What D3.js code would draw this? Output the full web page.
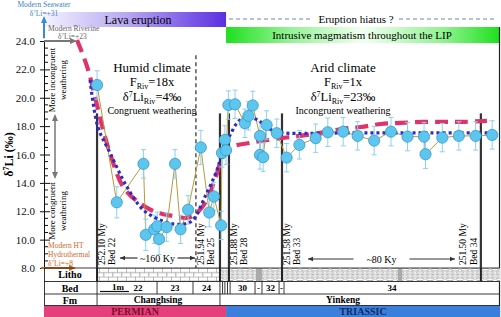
<!DOCTYPE html>
<html><head><meta charset="utf-8">
<script src="https://cdn.jsdelivr.net/npm/d3@7"></script>
<style>
body{margin:0;background:#fff}
svg{display:block;font-family:"Liberation Serif","Times New Roman",serif}
</style>
</head><body><div id="chart"></div>
<script>
// stratigraphic height (m above base of bed 22) and d7Li (permil)
const sampleHeight = [0.00,0.68,1.60,1.68,1.97,2.08,2.14,2.40,2.69,2.88,3.14,3.58,3.87,4.03,4.28,4.31,4.41,4.45,4.53,4.76,5.10,5.22,5.37,5.62,5.62,5.73,5.85,6.20,6.54,6.98,7.54,7.96,8.49,8.99,9.56,10.14,10.71,11.28,11.33,11.91,12.48,13.06,13.63];
const sampleD7Li   = [20.9,12.63,15.34,10.34,10.73,10.94,10.04,10.88,15.34,10.73,12.10,16.50,11.91,13.04,11.00,16.11,17.03,16.30,19.49,19.54,18.20,18.72,19.46,17.31,15.97,15.81,18.08,17.50,15.78,16.68,17.15,17.57,17.61,17.31,16.98,17.61,17.26,17.26,16.02,17.19,17.31,17.31,17.38];
const sampleErr    = [1.0,1.1,1.0,1.1,1.0,1.0,1.1,1.0,1.0,1.0,1.0,1.2,1.0,1.0,1.0,1.0,1.0,1.0,1.0,1.0,1.0,1.0,1.0,1.0,1.0,1.0,1.0,1.0,1.0,1.0,1.0,1.0,1.0,1.0,1.0,1.0,1.0,1.0,1.0,1.0,1.0,1.0,1.0];

// model curves
const modelDashH = [-0.69,-0.34,-0.07,0.21,0.52,0.90,1.41,2.00,2.59,3.14,3.45,3.79,4.14,4.31,4.69,5.28,6.14,7.00,7.69,8.45,9.10,9.79,10.48,11.24,11.97,12.66,13.45];
const modelDashV = [24.07,22.17,20.06,17.73,15.62,13.72,12.66,11.96,11.68,11.54,11.89,12.80,14.70,15.76,16.54,16.82,17.10,17.31,17.52,17.80,17.94,18.15,18.23,18.30,18.30,18.30,18.37];
const modelDotH  = [-0.24,0.03,0.45,1.03,1.59,2.17,2.62,3.03,3.31,3.72,4.14,4.41,4.59,4.83,5.10,5.38,5.69,6.07,6.41,8.72,11.14,13.55];
const modelDotV  = [21.25,17.94,16.11,13.72,12.10,11.39,11.11,11.11,11.39,13.01,14.92,16.82,17.38,18.23,18.65,18.58,18.23,17.66,17.52,17.52,17.52,17.52];

// age markers
const markerH   = [0, 3.41, 4.24, 4.55, 6.38, 13.24];
const markerAge = ['252.10 My','251.94 My','','251.88 My','251.58 My','251.50 My'];
const markerBed = ['Bed 22','Bed 25','','Bed 28','Bed 33','Bed 34'];
const markerDashed = [false,true,false,false,false,false];

// y axis
const yMajor = [8,10,12,14,16,18,20,22,24];

// bed column
const bedEdges  = [0,2.07,3.31,4.24,4.33,4.41,4.50,4.59,5.45,5.69,6.28,6.45,13.9];
const bedLabels = ['22','23','24','','','','','30','-','32','-','34'];
const fmEdges = [0,4.24,13.9];
const fmNames = ['Changhsing','Yinkeng'];
const periodEdges = [-1.83,4.45,13.9];
const periodNames = ['PERMIAN','TRIASSIC'];
const periodFill = ['#e6407c','#3a7fdc'];
const periodText = ['#7a0f2a','#14285e'];
const grayBands = [[5.48,5.69],[10.38,10.52]];

const W = 501, H = 317;
const x = d3.scaleLinear().domain([-1.83, 13.9]).range([44, 500]);
const y = d3.scaleLinear().domain([8, 24]).range([268, 41]);

const svg = d3.select('#chart').append('svg').attr('width', W).attr('height', H);
const defs = svg.append('defs');

// gradients
const gp = defs.append('linearGradient').attr('id','lava');
gp.append('stop').attr('offset','0%').attr('stop-color','#f4f2fe');
gp.append('stop').attr('offset','45%').attr('stop-color','#b7a8f2');
gp.append('stop').attr('offset','100%').attr('stop-color','#5b2fe0');
const gg = defs.append('linearGradient').attr('id','intr');
gg.append('stop').attr('offset','0%').attr('stop-color','#1fe01f');
gg.append('stop').attr('offset','22%').attr('stop-color','#8ff28f');
gg.append('stop').attr('offset','50%').attr('stop-color','#f2fff2');
gg.append('stop').attr('offset','80%').attr('stop-color','#8ff28f');
gg.append('stop').attr('offset','100%').attr('stop-color','#1fe01f');

// litho patterns
const brick = defs.append('pattern').attr('id','brick').attr('patternUnits','userSpaceOnUse')
  .attr('width',9).attr('height',8.6).attr('y',268);
brick.append('rect').attr('width',9).attr('height',8.6).attr('fill','#fff');
brick.append('path').attr('d','M0,0.3H9M0,4.6H9M0.3,0V4.6M4.8,4.6V8.6')
  .attr('stroke','#777').attr('stroke-width',0.6).attr('fill','none');
const nod = defs.append('pattern').attr('id','nod').attr('patternUnits','userSpaceOnUse')
  .attr('width',10).attr('height',6.5).attr('y',268);
nod.append('rect').attr('width',10).attr('height',6.5).attr('fill','#fff');
nod.append('ellipse').attr('cx',5).attr('cy',1.6).attr('rx',4.2).attr('ry',1.3)
  .attr('fill','none').attr('stroke','#777').attr('stroke-width',0.6);
[[0,4.9],[10,4.9]].forEach(c => nod.append('ellipse').attr('cx',c[0]).attr('cy',c[1]).attr('rx',4.2).attr('ry',1.3)
  .attr('fill','none').attr('stroke','#777').attr('stroke-width',0.6));

// Top banners
svg.append('rect').attr('x',44).attr('y',12).attr('width',x(4.45)-44).attr('height',15).attr('fill','url(#lava)');
svg.append('text').attr('x',138).attr('y',23.5).attr('text-anchor','middle').attr('font-size','12px').text('Lava eruption');
svg.append('rect').attr('x',x(4.45)).attr('y',27).attr('width',499-x(4.45)).attr('height',16).attr('fill','url(#intr)');
svg.append('text').attr('x',362).attr('y',39).attr('text-anchor','middle').attr('font-size','11px').text('Intrusive magmatism throughout the LIP');
svg.append('line').attr('x1',x(4.45)+3).attr('x2',313).attr('y1',19).attr('y2',19)
  .attr('stroke','#6d85a8').attr('stroke-dasharray','4,3');
svg.append('line').attr('x1',399).attr('x2',496).attr('y1',19).attr('y2',19)
  .attr('stroke','#6d85a8').attr('stroke-dasharray','4,3');
svg.append('text').attr('x',356).attr('y',23).attr('text-anchor','middle').attr('font-size','11px').text('Eruption hiatus ?');

// Right frame
svg.append('line').attr('x1',499.5).attr('x2',499.5).attr('y1',27).attr('y2',317).attr('stroke','#222').attr('stroke-width',1.2);

// Age marker lines
markerH.forEach((h, i) => {
  svg.append('line').attr('x1',x(h)).attr('x2',x(h))
    .attr('y1', markerDashed[i] ? y(23) : y(18.9)).attr('y2',268)
    .attr('stroke', markerDashed[i] ? '#555' : '#333')
    .attr('stroke-width', markerDashed[i] ? 1.5 : 2.2)
    .attr('stroke-dasharray', markerDashed[i] ? '4,3' : null);
  if (!markerAge[i]) return;
  const last = i === markerH.length - 1;
  const o1 = last ? -18 : 5, o2 = last ? -7 : 15;
  [[markerAge[i], o1],[markerBed[i], o2]].forEach(t => {
    svg.append('text').attr('transform',`translate(${x(h)+t[1]},265) rotate(-90)`)
      .attr('dy','0.35em').attr('font-size','9.5px').text(t[0]);
  });
});

// Time span arrows
function spanArrow(x1, x2, yy, label, gap) {
  const cx = (x1 + x2) / 2;
  svg.append('line').attr('x1',cx-gap).attr('x2',x1).attr('y1',yy).attr('y2',yy).attr('stroke','#333').attr('stroke-width',1.2);
  svg.append('line').attr('x1',cx+gap).attr('x2',x2).attr('y1',yy).attr('y2',yy).attr('stroke','#333').attr('stroke-width',1.2);
  svg.append('path').attr('d',`M${x1},${yy}l5,-2.2v4.4z`).attr('fill','#333');
  svg.append('path').attr('d',`M${x2},${yy}l-5,-2.2v4.4z`).attr('fill','#333');
  svg.append('text').attr('x',cx).attr('y',yy+3.5).attr('text-anchor','middle').attr('font-size','10px').text(label);
}
spanArrow(120, 195, 258, '~160 Ky', 20);
spanArrow(308, 455, 259, '~80 Ky', 28);

// Model curves
const line = d3.line().x((d,i) => x(d[0])).y(d => y(d[1])).curve(d3.curveCatmullRom);
svg.append('path').datum(modelDashH.map((h,i) => [h, modelDashV[i]]))
  .attr('d', line).attr('fill','none').attr('stroke','#e0336c').attr('stroke-width',4.2)
  .attr('stroke-dasharray','13,7');

// Samples connecting line
const pts = sampleHeight.map((h,i) => ({h, v: sampleD7Li[i], e: sampleErr[i]}));
svg.append('path').datum(pts)
  .attr('d', d3.line().x(d => x(d.h)).y(d => y(d.v)))
  .attr('fill','none').attr('stroke','#b89a3c').attr('stroke-width',1);

// error bars
const eb = svg.append('g').attr('stroke','#8fd0ec').attr('stroke-width',1);
pts.forEach(d => {
  eb.append('line').attr('x1',x(d.h)).attr('x2',x(d.h)).attr('y1',y(d.v+d.e)).attr('y2',y(d.v-d.e));
  eb.append('line').attr('x1',x(d.h)-2.5).attr('x2',x(d.h)+2.5).attr('y1',y(d.v+d.e)).attr('y2',y(d.v+d.e));
  eb.append('line').attr('x1',x(d.h)-2.5).attr('x2',x(d.h)+2.5).attr('y1',y(d.v-d.e)).attr('y2',y(d.v-d.e));
});

svg.append('path').datum(modelDotH.map((h,i) => [h, modelDotV[i]]))
  .attr('d', line).attr('fill','none').attr('stroke','#2c2cc8').attr('stroke-width',3.2)
  .attr('stroke-dasharray','3,3');

svg.append('g').selectAll('circle').data(pts).join('circle')
  .attr('cx', d => x(d.h)).attr('cy', d => y(d.v)).attr('r',5.6)
  .attr('fill','#5cc6ee').attr('stroke','#3a98cc').attr('stroke-width',0.8);

// Climate annotations
function climate(cx, title, f, li, mode) {
  svg.append('text').attr('x',cx).attr('y',72).attr('text-anchor','middle').attr('font-size','13px').text(title);
  const t1 = svg.append('text').attr('x',cx).attr('y',86).attr('text-anchor','middle').attr('font-size','12.5px');
  t1.append('tspan').text('F');
  t1.append('tspan').attr('font-size','8px').attr('dy',2.5).text('Riv');
  t1.append('tspan').attr('dy',-2.5).text('=' + f);
  const t2 = svg.append('text').attr('x',cx).attr('y',101).attr('text-anchor','middle').attr('font-size','12.5px');
  t2.append('tspan').text('δ');
  t2.append('tspan').attr('font-size','8px').attr('dy',-4.5).text('7');
  t2.append('tspan').attr('dy',4.5).text('Li');
  t2.append('tspan').attr('font-size','8px').attr('dy',2.5).text('Riv');
  t2.append('tspan').attr('dy',-2.5).text('=' + li);
  svg.append('text').attr('x',cx).attr('y',114).attr('text-anchor','middle').attr('font-size','10px').text(mode);
}
climate(152, 'Humid climate', '18x', '4‰', 'Congruent weathering');
climate(343, 'Arid climate', '1x', '23‰', 'Incongruent weathering');

// Y axis
const ax = svg.append('g').attr('transform','translate(44,0)')
  .call(d3.axisLeft(y).tickValues(yMajor).tickFormat(d3.format('.1f')).tickSizeInner(4).tickSizeOuter(0).tickPadding(5));
ax.select('.domain').attr('stroke','#111');
ax.selectAll('.tick line').attr('x2',6).attr('x1',-4).attr('stroke','#111');
ax.selectAll('text').attr('font-size','11px').attr('font-family','"Liberation Serif",serif').attr('fill','#111');
const minor = d3.range(8.5, 24, 0.5).filter(v => v % 2 !== 0);
svg.append('g').selectAll('line').data(minor).join('line')
  .attr('x1',44).attr('x2',48).attr('y1',d => y(d)).attr('y2',d => y(d)).attr('stroke','#111');

// y title
const yt = svg.append('text').attr('transform',`translate(9,${y(16)}) rotate(-90)`).attr('dy','0.35em')
  .attr('text-anchor','middle').attr('font-size','12px').attr('font-weight','bold');
yt.append('tspan').text('δ');
yt.append('tspan').attr('font-size','8px').attr('dy',-4).text('7');
yt.append('tspan').attr('dy',4).text('Li (‰)');

// reference arrows
svg.append('line').attr('x1',44).attr('x2',44).attr('y1',y(24.2)).attr('y2',22).attr('stroke','#3a8ad8').attr('stroke-width',2);
svg.append('path').attr('d','M44,16l-3,7h6z').attr('fill','#3a8ad8');
svg.append('text').attr('x',44).attr('y',7).attr('text-anchor','middle').attr('font-size','7.5px').attr('fill','#3d7fc4').text('Modern Seawater');
const sw = svg.append('text').attr('x',44).attr('y',15.5).attr('text-anchor','middle').attr('font-size','7.5px').attr('fill','#3d7fc4');
sw.append('tspan').text('δ'); sw.append('tspan').attr('font-size','5px').attr('dy',-3).text('7'); sw.append('tspan').attr('dy',3).text('Li=+31');

svg.append('line').attr('x1',44).attr('x2',71).attr('y1',y(24)).attr('y2',y(24)).attr('stroke','#777').attr('stroke-width',2);
svg.append('path').attr('d',`M77,${y(24)}l-7,-3v6z`).attr('fill','#777');
svg.append('text').attr('x',48).attr('y',31).attr('font-size','7.5px').attr('fill','#666').text('Modern Riverine');
const rv = svg.append('text').attr('x',58).attr('y',39).attr('font-size','7.5px').attr('fill','#666');
rv.append('tspan').text('δ'); rv.append('tspan').attr('font-size','5px').attr('dy',-3).text('7'); rv.append('tspan').attr('dy',3).text('Li=+23');

svg.append('line').attr('x1',41).attr('x2',70).attr('y1',y(8)).attr('y2',y(8)).attr('stroke','#d2661f').attr('stroke-width',2);
svg.append('path').attr('d',`M76,${y(8)}l-7,-3v6z`).attr('fill','#d2661f');
['Modern HT','Hydrothermal'].forEach((s,i) => svg.append('text').attr('x',48).attr('y',248 + i*8.5).attr('font-size','7.5px').attr('fill','#d2661f').text(s));
const ht = svg.append('text').attr('x',48).attr('y',265.5).attr('font-size','7.5px').attr('fill','#d2661f');
ht.append('tspan').text('δ'); ht.append('tspan').attr('font-size','5px').attr('dy',-3).text('7'); ht.append('tspan').attr('dy',3).text('Li=+8');

// weathering arrows
svg.append('line').attr('x1',55).attr('x2',55).attr('y1',121).attr('y2',172).attr('stroke','#777').attr('stroke-width',1.5);
svg.append('path').attr('d','M55,114l-3,7h6z').attr('fill','#777');
svg.append('path').attr('d','M55,179l-3,-7h6z').attr('fill','#777');
[['More incongruent',52,80],['weathering',63,80],['More congruent',52,211],['weathering',63,211]].forEach(t => {
  svg.append('text').attr('transform',`translate(${t[1]},${t[2]}) rotate(-90)`).attr('dy','0.35em')
    .attr('text-anchor','middle').attr('font-size','9px').text(t[0]);
});

// Bottom table
const rows = [268, 281.5, 294, 305.5, 317];
svg.append('rect').attr('x',x(0)).attr('y',268).attr('width',x(4.24)-x(0)).attr('height',13.5).attr('fill','url(#brick)');
svg.append('rect').attr('x',x(4.24)).attr('y',268).attr('width',x(13.9)-x(4.24)).attr('height',13.5).attr('fill','url(#nod)');
grayBands.forEach(b => svg.append('rect').attr('x',x(b[0])).attr('y',268).attr('width',x(b[1])-x(b[0])).attr('height',13.5).attr('fill','#aaa'));
[0, 4.24, 4.55, 6.38, 13.24].forEach(h => svg.append('line').attr('x1',x(h)).attr('x2',x(h)).attr('y1',268).attr('y2',281.5)
  .attr('stroke','#222').attr('stroke-width',2));

// period bar
periodNames.forEach((p,i) => {
  const x0 = x(periodEdges[i]), x1 = x(periodEdges[i+1]);
  svg.append('rect').attr('x',x0).attr('y',305.5).attr('width',x1-x0).attr('height',11.5).attr('fill',periodFill[i]);
  svg.append('text').attr('x',(x0+x1)/2).attr('y',315).attr('text-anchor','middle')
    .attr('font-size','10px').attr('font-weight','bold').attr('fill',periodText[i]).text(p);
});

const grid = svg.append('g').attr('stroke','#222').attr('stroke-width',0.9);
rows.slice(0,4).forEach(r => grid.append('line').attr('x1',44).attr('x2',500).attr('y1',r).attr('y2',r));
grid.append('line').attr('x1',44.5).attr('x2',44.5).attr('y1',268).attr('y2',305.5);
grid.append('line').attr('x1',x(0)).attr('x2',x(0)).attr('y1',268).attr('y2',305.5);
bedEdges.slice(1,-1).forEach(h => grid.append('line').attr('x1',x(h)).attr('x2',x(h)).attr('y1',281.5).attr('y2',294));
fmEdges.slice(1,-1).forEach(h => grid.append('line').attr('x1',x(h)).attr('x2',x(h)).attr('y1',294).attr('y2',305.5));

['Litho','Bed','Fm'].forEach((s,i) => svg.append('text').attr('x',70).attr('y',rows[i]+10).attr('text-anchor','middle')
  .attr('font-size','10px').attr('font-weight','bold').text(s));

bedLabels.forEach((b,i) => {
  if (!b) return;
  let cx = (x(bedEdges[i]) + x(bedEdges[i+1])) / 2;
  if (i === 0) cx = 138;
  svg.append('text').attr('x',cx).attr('y',291).attr('text-anchor','middle').attr('font-size','9px').attr('font-weight','bold').text(b);
});
svg.append('text').attr('x',x(0.72)).attr('y',290).attr('text-anchor','middle').attr('font-size','9px').attr('font-weight','bold').text('1m');
svg.append('line').attr('x1',x(0.1)).attr('x2',x(1.1)).attr('y1',291.5).attr('y2',291.5).attr('stroke','#111').attr('stroke-width',1.2);

fmNames.forEach((f,i) => svg.append('text').attr('x',i === 0 ? 158 : 343).attr('y',303).attr('text-anchor','middle')
  .attr('font-size','9.5px').attr('font-weight','bold').text(f));
</script>
</body></html>
